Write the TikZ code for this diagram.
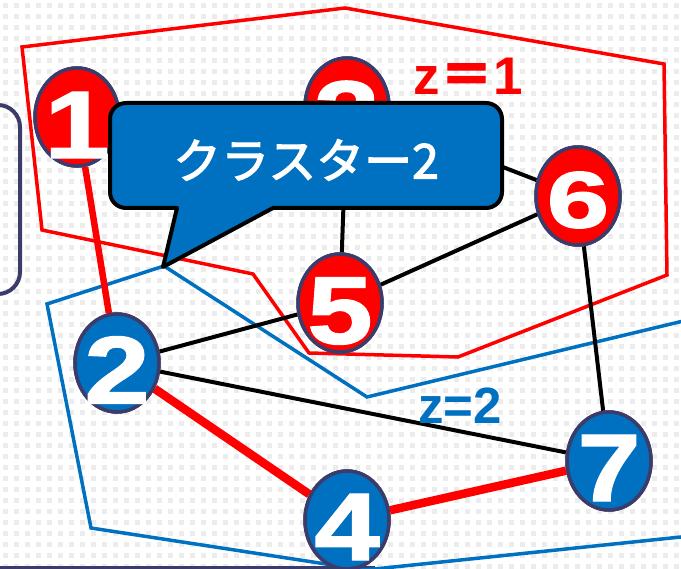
\documentclass[tikz,border=0pt]{standalone}
\usepackage{fontspec}
\setmainfont{Liberation Sans}
\newfontfamily\digitfont{Liberation Sans}[BoldFeatures={FakeBold=1.5}]
\newfontfamily\cjk{Noto Sans CJK JP}[FakeBold=2.5]
\usetikzlibrary{shapes.geometric}
\definecolor{myred}{HTML}{FF0000}
\definecolor{myblue}{HTML}{0070C0}
\definecolor{navy}{HTML}{3C3C6A}
\definecolor{dotgray}{HTML}{ECECEC}
\begin{document}
\begin{tikzpicture}[x=1pt,y=-1pt,
  vred/.style={ellipse, draw=navy, line width=3.5pt, fill=myred, minimum width=84pt, minimum height=98pt, inner sep=0pt},
  vblue/.style={vred, fill=myblue},
  digit/.style={text=white, font=\digitfont\fontsize{96}{96}\selectfont\bfseries, inner sep=0pt},
  redlink/.style={draw=myred, line width=8.5pt},
  blacklink/.style={draw=black, line width=4pt},
  poly/.style={line width=3.5pt, line join=miter},
  callout/.style={fill=myblue, draw=black, line width=4pt, line join=round}]
\useasboundingbox (0,0) rectangle (681,569);
\clip (0,0) rectangle (681,569);
\fill[white] (0,0) rectangle (681,569);
\foreach \i in {0,...,61} \foreach \j in {0,...,51}
  \fill[dotgray] (\i*11+3,\j*11+3) rectangle ++(5,5);
% left partial box and bottom line
\draw[navy, line width=4pt, rounded corners=22pt] (-60,105) rectangle (20,294);
\draw[navy, line width=4pt] (0,568) -- (375,568);
% cluster polygons
\draw[myred, poly] (22,47) -- (345,8) -- (664,64) -- (667,275) -- (458,357) -- (309,353) -- (253,274) -- (42,230) -- cycle;
\draw[myblue, poly] (47,304) -- (164,266) -- (367,397) -- (700,317) -- (700,535) -- (365,570) -- (91,528) -- cycle;
% vertices (positions)
\node[vred]  (n1) at (77,117) {};
\node[vred]  (n3) at (347,107) {};
\node[vred]  (n6) at (578,196) {};
\node[vred]  (n5) at (340,303) {};
\node[vblue] (n2) at (117,363) {};
\node[vblue] (n4) at (347,520) {};
\node[vblue] (n7) at (609,461) {};
% edges
\draw[blacklink] (n3) -- (n5);
\draw[blacklink] (n3) -- (n6);
\draw[blacklink] (n2) -- (n5);
\draw[blacklink] (n2) -- (n7);
\draw[blacklink] (n5) -- (n6);
\draw[blacklink] (n6) -- (n7);
\draw[redlink, line width=6.5pt] (n1) -- (n2);
\draw[redlink] (n2) -- (n4);
\draw[redlink] (n4) -- (n7);
% vertices redrawn on top of edges
\node[vred]  (m1) at (n1) {};
\node[vred]  (m3) at (n3) {};
\node[vred]  (m6) at (n6) {};
\node[vred]  (m5) at (n5) {};
\node[vblue] (m2) at (n2) {};
\node[vblue] (m4) at (n4) {};
\node[vblue] (m7) at (n7) {};
\node[digit] (l1) at ([yshift=-8pt]n1.center) {\scalebox{1.22}[1]{1}};
\node[digit] (l3) at ([yshift=-8pt]n3.center) {\scalebox{1.22}[1]{3}};
\node[digit, font=\digitfont\fontsize{80}{80}\selectfont\bfseries] (l6) at ([yshift=-4pt]n6.center) {\scalebox{1.4}[1]{6}};
\node[digit] (l5) at ([yshift=-8pt]n5.center) {\scalebox{1.22}[1]{5}};
\node[digit] (l2) at ([yshift=-7pt]n2.center) {\scalebox{1.22}[1]{2}};
\node[digit] (l4) at ([yshift=-7pt]n4.center) {\scalebox{1.22}[1]{4}};
\node[digit] (l7) at ([yshift=-7pt]n7.center) {\scalebox{1.18}[1]{7}};
% cluster labels
\node[text=myred, font=\fontsize{53}{53}\selectfont\bfseries, inner sep=0pt] (z1) at (468,76) {z{\cjk ＝}1};
\node[text=myblue, font=\fontsize{51}{51}\selectfont\bfseries, inner sep=0pt] (z2) at (460,406) {z=2};
% callout
\path[callout] (177,208) -- (163,267) -- (273,208) {[rounded corners=16pt] -- (502,208) -- (502,103) -- (110,103) -- (110,208)} -- cycle;
\node[text=white, font=\cjk\fontsize{48}{48}\selectfont, inner sep=0pt] (ct) at (306,160) {クラスター2};
\end{tikzpicture}
\end{document}
